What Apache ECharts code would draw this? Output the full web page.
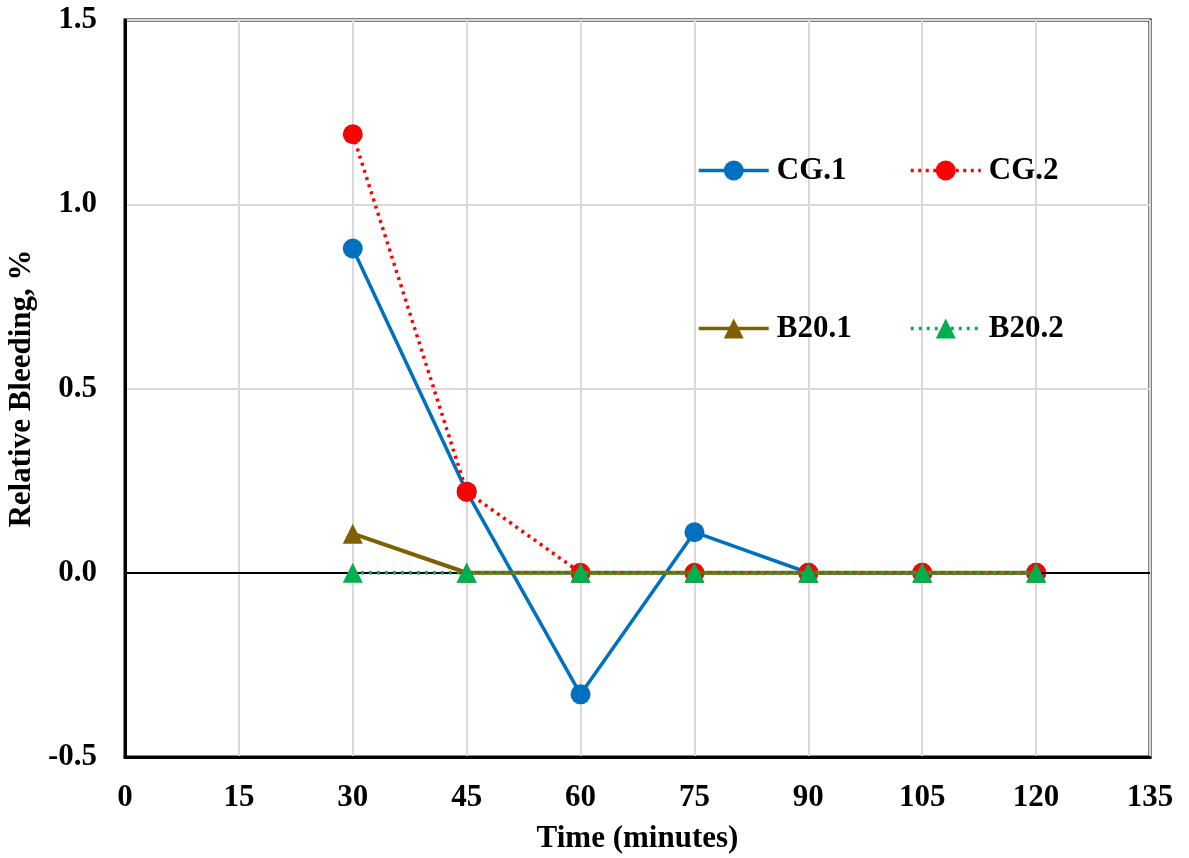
<!DOCTYPE html>
<html>
<head>
<meta charset="utf-8">
<script src="https://cdn.jsdelivr.net/npm/echarts@6/dist/echarts.min.js"></script>
<style>html,body{margin:0;padding:0;background:#fff;}#c{width:1189px;height:858px;}</style>
</head>
<body>
<div id="c"></div>
<script>
const times = [30, 45, 60, 75, 90, 105, 120];
const cg1 = [0.88, 0.22, -0.33, 0.11, 0, 0, 0];
const cg2 = [1.19, 0.22, 0, 0, 0, 0, 0];
const b201 = [0.106, 0, 0, 0, 0, 0, 0];
const b202 = [0, 0, 0, 0, 0, 0, 0];
const seriesNames = ['CG.1', 'CG.2', 'B20.1', 'B20.2'];
const xTicks = {min: 0, max: 135, interval: 15};
const yTicks = {min: -0.5, max: 1.5, interval: 0.5};

const FONT = "'Liberation Serif', 'Times New Roman', serif";
const pair = (arr) => times.map((t, i) => [t, arr[i]]);

const chart = echarts.init(document.getElementById('c'), null, {renderer: 'canvas'});
const txt = {fontFamily: FONT, fontWeight: 'bold', fontSize: 31, color: '#000'};
function mkLegend(name, left, top) {
  return {
    data: [name], left: left, top: top, itemWidth: 70, itemHeight: 25, itemGap: 0,
    lineStyle: {width: 3.5},
    textStyle: Object.assign({padding: [0, 0, 0, 3]}, txt), padding: 0, selectedMode: false
  };
}
chart.setOption({
  animation: false,
  backgroundColor: '#fff',
  grid: {left: 125, right: 39, top: 20, bottom: 101, show: true, borderColor: '#000', borderWidth: 3, backgroundColor: 'transparent', containLabel: false, outerBoundsMode: 'none'},
  legend: [
    mkLegend(seriesNames[0], 697, 155),
    mkLegend(seriesNames[1], 909, 155),
    mkLegend(seriesNames[2], 697, 313),
    mkLegend(seriesNames[3], 909, 313)
  ],
  xAxis: {
    type: 'value', min: xTicks.min, max: xTicks.max, interval: xTicks.interval,
    name: 'Time (minutes)', nameLocation: 'middle', nameGap: 66,
    nameTextStyle: Object.assign({}, txt),
    axisLine: {onZero: false, lineStyle: {color: '#000', width: 3}},
    axisTick: {show: false},
    axisLabel: Object.assign({margin: 25}, txt),
    splitLine: {show: true, lineStyle: {color: '#d9d9d9', width: 2}}
  },
  yAxis: {
    type: 'value', min: yTicks.min, max: yTicks.max, interval: yTicks.interval,
    name: 'Relative Bleeding, %', nameLocation: 'middle', nameGap: 87,
    nameTextStyle: Object.assign({}, txt),
    axisLine: {show: true, lineStyle: {color: '#000', width: 3}},
    axisTick: {show: false},
    axisLabel: Object.assign({margin: 28, formatter: v => v.toFixed(1)}, txt),
    splitLine: {show: true, lineStyle: {color: '#d9d9d9', width: 2}}
  },
  series: [
    {
      type: 'line', name: '_zero', data: [], silent: true, z: 1,
      markLine: {silent: true, symbol: 'none', label: {show: false},
        lineStyle: {color: '#000', width: 2, type: 'solid'}, data: [{yAxis: 0}]}
    },
    {
      type: 'line', name: seriesNames[0], data: pair(cg1), symbol: 'circle', symbolSize: 20,
      lineStyle: {color: '#0070C0', width: 3.5, type: 'solid'}, itemStyle: {color: '#0070C0'}, z: 3
    },
    {
      type: 'line', name: seriesNames[1], data: pair(cg2), symbol: 'circle', symbolSize: 20,
      lineStyle: {color: '#FF0000', width: 3.5, type: [3, 4.5]}, itemStyle: {color: '#FF0000'}, z: 4
    },
    {
      type: 'line', name: seriesNames[2], data: pair(b201), symbol: 'triangle', symbolSize: 20,
      lineStyle: {color: '#7F6000', width: 4, type: 'solid'}, itemStyle: {color: '#7F6000'}, z: 5
    },
    {
      type: 'line', name: seriesNames[3], data: pair(b202), symbol: 'triangle', symbolSize: 20,
      lineStyle: {color: '#00B050', width: 3.5, type: [3, 5]}, itemStyle: {color: '#00B050'}, z: 6
    }
  ]
});
</script>
</body>
</html>
